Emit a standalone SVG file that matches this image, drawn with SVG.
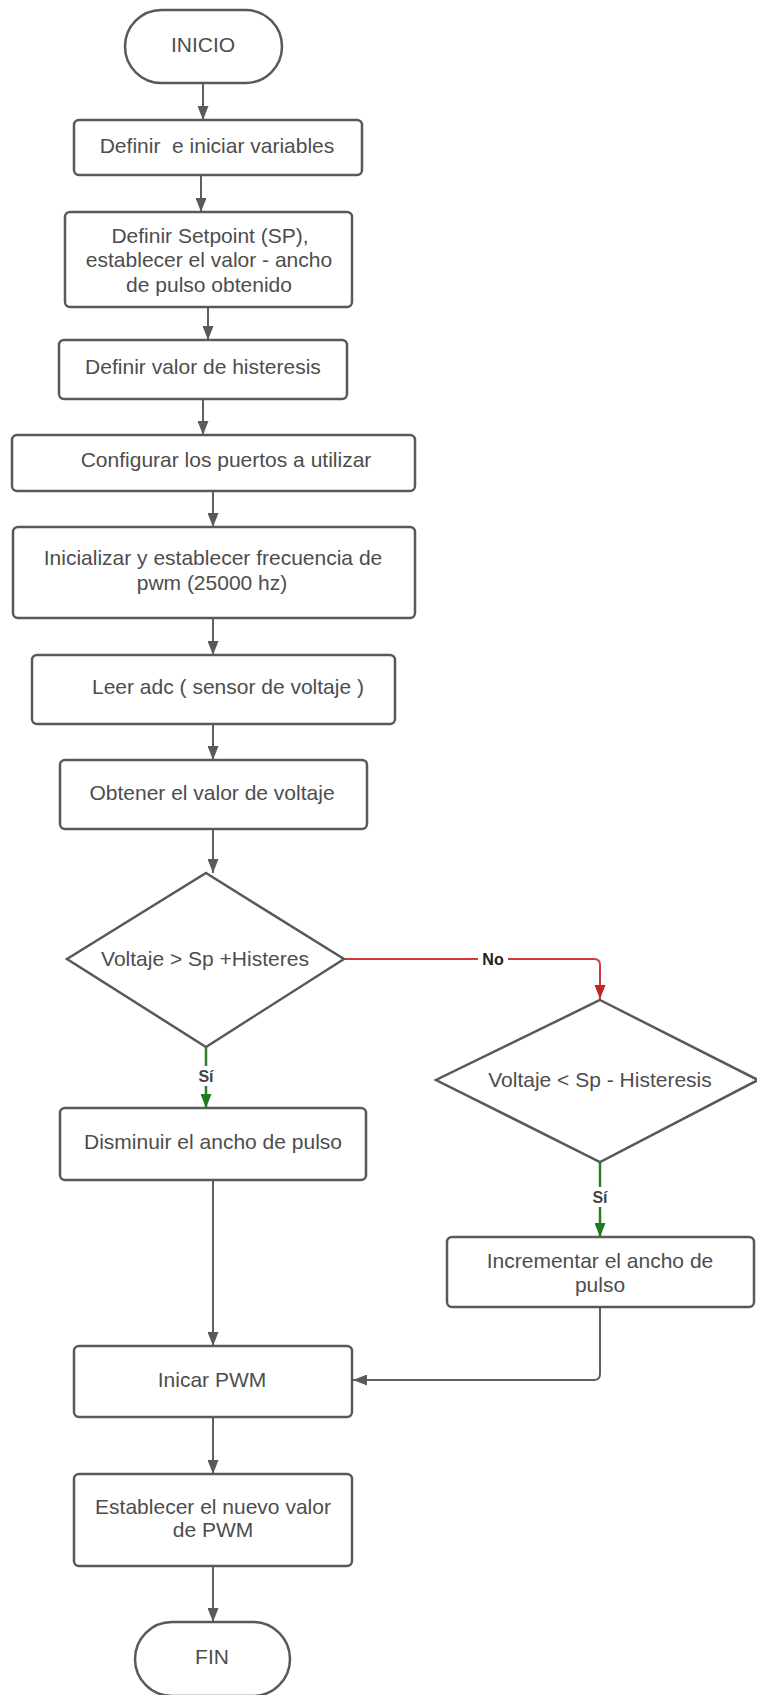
<svg xmlns="http://www.w3.org/2000/svg" width="757" height="1695" viewBox="0 0 757 1695">
<style>
.box{fill:#fff;stroke:#595959;stroke-width:2.5}
.t{font-family:"Liberation Sans",Arial,sans-serif;font-size:21px;fill:#4d4d4d;text-anchor:middle}
.lbl{font-family:"Liberation Sans",Arial,sans-serif;font-size:16px;font-weight:bold;text-anchor:middle}
.c{fill:none;stroke:#5f5f5f;stroke-width:2}
.red{fill:none;stroke:#d23a3a;stroke-width:2}
.grn{fill:none;stroke:#2a7d2a;stroke-width:2.5}
</style>
<defs>
<marker id="ag" viewBox="0 0 14 11" markerWidth="14" markerHeight="11" refX="14" refY="5.5" orient="auto" markerUnits="userSpaceOnUse"><path d="M0,0 L14,5.5 L0,11 z" fill="#5a5a5a"/></marker>
<marker id="ar" viewBox="0 0 14 11" markerWidth="14" markerHeight="11" refX="14" refY="5.5" orient="auto" markerUnits="userSpaceOnUse"><path d="M0,0 L14,5.5 L0,11 z" fill="#c42424"/></marker>
<marker id="agr" viewBox="0 0 14 11" markerWidth="14" markerHeight="11" refX="14" refY="5.5" orient="auto" markerUnits="userSpaceOnUse"><path d="M0,0 L14,5.5 L0,11 z" fill="#1f7a1f"/></marker>
</defs>
<rect width="757" height="1695" fill="#fff"/>
<g id="connectors">
<line class="c" x1="203" y1="83" x2="203" y2="120" marker-end="url(#ag)"/>
<line class="c" x1="201" y1="175" x2="201" y2="212" marker-end="url(#ag)"/>
<line class="c" x1="208" y1="307" x2="208" y2="340" marker-end="url(#ag)"/>
<line class="c" x1="203" y1="399" x2="203" y2="435" marker-end="url(#ag)"/>
<line class="c" x1="213" y1="491" x2="213" y2="527" marker-end="url(#ag)"/>
<line class="c" x1="213" y1="618" x2="213" y2="655" marker-end="url(#ag)"/>
<line class="c" x1="213" y1="724" x2="213" y2="760" marker-end="url(#ag)"/>
<line class="c" x1="213" y1="829" x2="213" y2="873" marker-end="url(#ag)"/>
<path class="red" d="M344,959 H594 Q600,959 600,965 V999" marker-end="url(#ar)"/>
<rect x="478" y="949" width="30" height="20" fill="#fff"/>
<text class="lbl" x="493" y="965" fill="#222">No</text>
<line class="grn" x1="206" y1="1047" x2="206" y2="1066"/>
<line class="grn" x1="206" y1="1086" x2="206" y2="1108" marker-end="url(#agr)"/>
<text class="lbl" x="206" y="1082" fill="#444">Sí</text>
<line class="c" x1="213" y1="1180" x2="213" y2="1346" marker-end="url(#ag)"/>
<line class="grn" x1="600" y1="1162" x2="600" y2="1187"/>
<line class="grn" x1="600" y1="1207" x2="600" y2="1237" marker-end="url(#agr)"/>
<text class="lbl" x="600" y="1203" fill="#444">Sí</text>
<path class="c" d="M600,1307 V1374 Q600,1380 594,1380 H353" marker-end="url(#ag)"/>
<line class="c" x1="213" y1="1417" x2="213" y2="1474" marker-end="url(#ag)"/>
<line class="c" x1="213" y1="1566" x2="213" y2="1622" marker-end="url(#ag)"/>
</g>
<g id="inicio"><rect class="box" x="125" y="10" width="157" height="73" rx="36.5"/><text class="t" x="203" y="52">INICIO</text></g>
<g id="n1"><rect class="box" x="74" y="120" width="288" height="55" rx="5"/><text class="t" x="217" y="153" xml:space="preserve">Definir  e iniciar variables</text></g>
<g id="n2"><rect class="box" x="65" y="212" width="287" height="95" rx="5"/><text class="t" x="210" y="243">Definir Setpoint (SP),</text><text class="t" x="209" y="267">establecer el valor - ancho</text><text class="t" x="209" y="292">de pulso obtenido</text></g>
<g id="n3"><rect class="box" x="59" y="340" width="288" height="59" rx="5"/><text class="t" x="203" y="374">Definir valor de histeresis</text></g>
<g id="n4"><rect class="box" x="12" y="435" width="403" height="56" rx="5"/><text class="t" x="226" y="467">Configurar los puertos a utilizar</text></g>
<g id="n5"><rect class="box" x="13" y="527" width="402" height="91" rx="5"/><text class="t" x="213" y="565">Inicializar y establecer frecuencia de</text><text class="t" x="212" y="590">pwm (25000 hz)</text></g>
<g id="n6"><rect class="box" x="32" y="655" width="363" height="69" rx="5"/><text class="t" x="228" y="694">Leer adc ( sensor de voltaje )</text></g>
<g id="n7"><rect class="box" x="60" y="760" width="307" height="69" rx="5"/><text class="t" x="212" y="800">Obtener el valor de voltaje</text></g>
<g id="d1"><polygon class="box" points="206,873 344,959 206,1047 67,959"/><text class="t" x="205" y="966">Voltaje &gt; Sp +Histeres</text></g>
<g id="d2"><polygon class="box" points="600,1000 758,1080 600,1162 436,1080"/><text class="t" x="600" y="1087">Voltaje &lt; Sp - Histeresis</text></g>
<g id="n8"><rect class="box" x="60" y="1108" width="306" height="72" rx="5"/><text class="t" x="213" y="1149">Disminuir el ancho de pulso</text></g>
<g id="n9"><rect class="box" x="447" y="1237" width="307" height="70" rx="5"/><text class="t" x="600" y="1268">Incrementar el ancho de</text><text class="t" x="600" y="1292">pulso</text></g>
<g id="n10"><rect class="box" x="74" y="1346" width="278" height="71" rx="5"/><text class="t" x="212" y="1387">Inicar PWM</text></g>
<g id="n11"><rect class="box" x="74" y="1474" width="278" height="92" rx="5"/><text class="t" x="213" y="1514">Establecer el nuevo valor</text><text class="t" x="213" y="1537">de PWM</text></g>
<g id="fin"><rect class="box" x="135" y="1622" width="155" height="74" rx="37"/><text class="t" x="212" y="1664">FIN</text></g>
</svg>
